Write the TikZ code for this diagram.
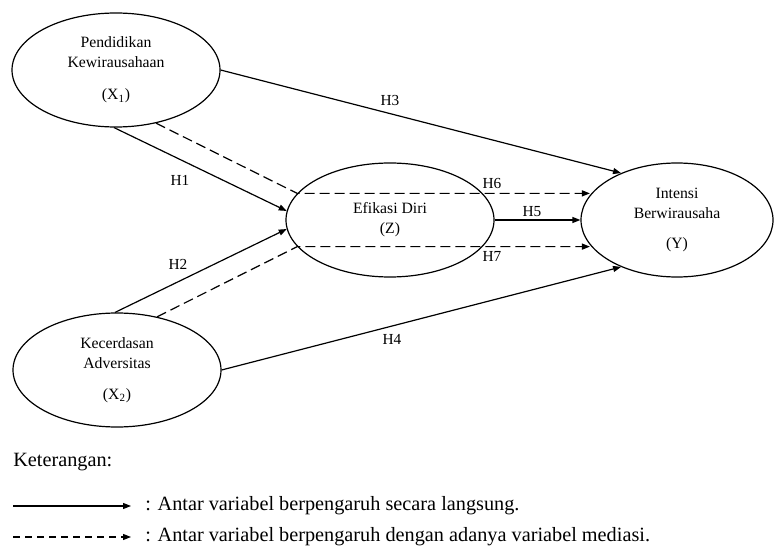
\documentclass[tikz,border=0pt]{standalone}
\usepackage{fontspec}
\setmainfont{Liberation Serif}
\usetikzlibrary{shapes.geometric,arrows.meta}
\begin{document}
\begin{tikzpicture}[x=0.75pt,y=-0.75pt,
  var/.style={draw,ellipse,line width=0.9pt,inner sep=0pt,minimum width=156pt,minimum height=85.5pt,align=center,font=\fontsize{11.8}{15}\selectfont},
  conn/.style={line width=0.9pt,-{Triangle[length=6pt,width=4.5pt]}},
  med/.style={conn,dash pattern=on 7.5pt off 3.75pt},
  hyp/.style={font=\fontsize{11.5}{14}\selectfont,inner sep=0pt},
  legend/.style={font=\fontsize{15.2}{18}\selectfont,anchor=west,inner sep=0pt}]
\useasboundingbox (0,0) rectangle (775,549);
\node[var] (x1) at (116,70) {Pendidikan\\Kewirausahaan\\[9pt](X\textsubscript{1})};
\node[var] (x2) at (117,370) {Kecerdasan\\Adversitas\\[8pt](X\textsubscript{2})};
\node[var] (z) at (390,220) {Efikasi Diri\\(Z)};
\node[var,minimum width=144pt] (y) at (677,220) {Intensi\\Berwirausaha\\[8pt](Y)};
\draw[conn] (x1.-92) -- (z.175);
\draw[conn] (x2.92) -- (z.185);
\draw[conn] (x1.east) -- (y.140);
\draw[conn] (x2.east) -- (y.220);
\draw[conn] (z.east) -- (y.west);
\draw[med] (x1.-53) -- (z.164) -- (z.164 -| y.164);
\draw[med] (x2.53) -- (z.196) -- (z.196 -| y.196);
\node[hyp] (h1) at (180,180) {H1};
\node[hyp] (h2) at (178,264) {H2};
\node[hyp] (h3) at (390,101) {H3};
\node[hyp] (h4) at (392,339) {H4};
\node[hyp] (h5) at (532,212) {H5};
\node[hyp] (h6) at (492,183) {H6};
\node[hyp] (h7) at (492,256) {H7};
\node[legend] (ket) at (13,462) {Keterangan:};
\coordinate (s1) at (13,506);
\coordinate (s2) at (13,537);
\node[legend] (t1) at (145,506) {: Antar variabel berpengaruh secara langsung.};
\node[legend] (t2) at (145,537) {: Antar variabel berpengaruh dengan adanya variabel mediasi.};
\draw[conn] (s1) -- ([xshift=-10.5pt]t1.west);
\draw[conn,dash pattern=on 5pt off 4pt] (s2) -- ([xshift=-10.5pt]t2.west);
\end{tikzpicture}
\end{document}
